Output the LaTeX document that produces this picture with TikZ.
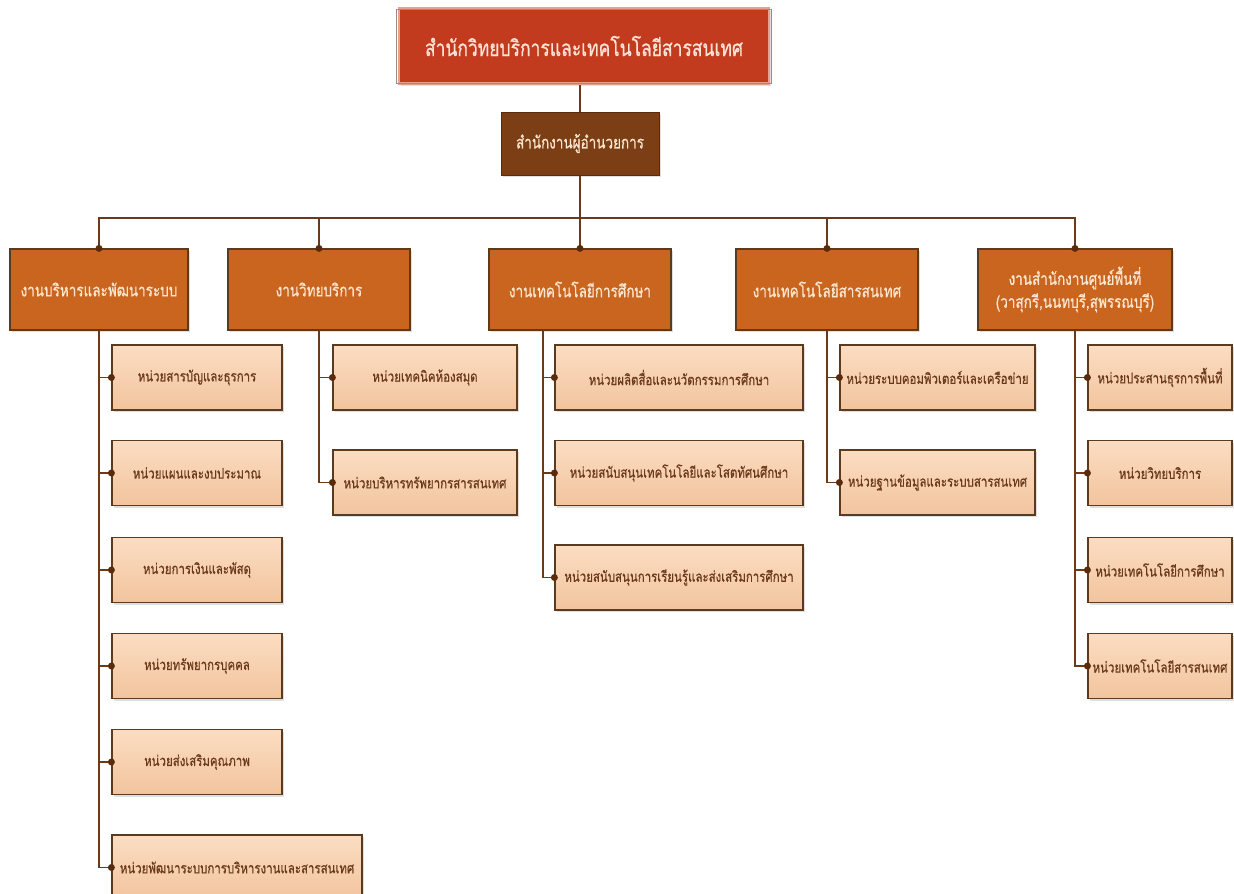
\documentclass[tikz,border=0pt]{standalone}
\usepackage{fontspec}
\newfontfamily\thai[Script=Thai,FakeStretch=0.78,FakeBold=0.6]{Loma}
\usetikzlibrary{shadows,calc}
\definecolor{linec}{HTML}{6B3A1A}
\definecolor{dotc}{HTML}{5A2A0A}
\definecolor{topred}{HTML}{C23B1E}
\definecolor{toprim}{HTML}{E9A08C}
\definecolor{topout}{HTML}{9A8A86}
\definecolor{toptext}{HTML}{FCE3D6}
\definecolor{dirfill}{HTML}{7C3E14}
\definecolor{deptfill}{HTML}{C9651F}
\definecolor{depttext}{HTML}{FCE6D0}
\definecolor{unittop}{HTML}{FBDDC2}
\definecolor{unitbot}{HTML}{F2C49E}
\definecolor{unitline}{HTML}{5C3A1E}
\definecolor{unittext}{HTML}{6B3A1A}
\tikzset{
  box/.style={rectangle, inner sep=2pt, align=center,
    drop shadow={opacity=0.25, shadow xshift=2pt, shadow yshift=-2pt}},
  topbox/.style={box, fill=topred, draw=toprim, line width=2.4pt, text=toptext,
    minimum width=370pt, minimum height=75pt, font=\thai\fontsize{22.4}{26}\selectfont},
  topframe/.style={draw=topout, line width=0.8pt},
  dirbox/.style={box, fill=dirfill, draw=dotc, line width=1pt, text=depttext,
    minimum width=158pt, minimum height=63pt, font=\thai\fontsize{17.3}{20}\selectfont},
  deptbox/.style={box, fill=deptfill, draw=unitline, line width=1.2pt, text=depttext,
    minimum height=81pt, font=\thai\fontsize{17.3}{23}\selectfont},
  unitbox/.style={box, top color=unittop, bottom color=unitbot, draw=unitline,
    line width=1.2pt, text=unittext, minimum height=65pt,
    font=\thai\fontsize{14.7}{17}\selectfont},
  conn/.style={draw=linec, line width=1.3pt},
  jdot/.style={circle, fill=dotc, inner sep=0pt, minimum size=7pt}
}
\begin{document}
\begin{tikzpicture}[x=1pt,y=-1pt]
\useasboundingbox (0,0) rectangle (1234,894);
\fill[white] (0,0) rectangle (1234,894);

% top levels
\node[topbox] (top) at (584,46) {สำนักวิทยบริการและเทคโนโลยีสารสนเทศ};
\draw[topframe] (top.north west) ++(-1.6pt,-1.6pt) rectangle ($(top.south east)+(1.6pt,1.6pt)$);
\node[dirbox] (dir) at (580,143.5) {สำนักงานผู้อำนวยการ};

% departments
\node[deptbox, minimum width=178pt] (d1) at (99,289.5) {งานบริหารและพัฒนาระบบ};
\node[deptbox, minimum width=182pt] (d2) at (319,289.5) {งานวิทยบริการ};
\node[deptbox, minimum width=182pt] (d3) at (580,289.5) {งานเทคโนโลยีการศึกษา};
\node[deptbox, minimum width=182pt] (d4) at (827,289.5) {งานเทคโนโลยีสารสนเทศ};
\node[deptbox, minimum width=194pt] (d5) at (1075,289.5) {งานสำนักงานศูนย์พื้นที่\\(วาสุกรี,นนทบุรี,สุพรรณบุรี)};

\coordinate (hub) at (580,218);
\coordinate (c3) at (543,330.5);

% units column 1
\node[unitbox, minimum width=170pt] (u11) at (197,377.5) {หน่วยสารบัญและธุรการ};
\node[unitbox, minimum width=170pt] (u12) at (197,473) {หน่วยแผนและงบประมาณ};
\node[unitbox, minimum width=170pt] (u13) at (197,570) {หน่วยการเงินและพัสดุ};
\node[unitbox, minimum width=170pt] (u14) at (197,666) {หน่วยทรัพยากรบุคคล};
\node[unitbox, minimum width=170pt] (u15) at (197,762) {หน่วยส่งเสริมคุณภาพ};
\node[unitbox, minimum width=250pt] (u16) at (237,867.5) {หน่วยพัฒนาระบบการบริหารงานและสารสนเทศ};

% units column 2
\node[unitbox, minimum width=184pt] (u21) at (425,377.5) {หน่วยเทคนิคห้องสมุด};
\node[unitbox, minimum width=184pt] (u22) at (425,482.5) {หน่วยบริหารทรัพยากรสารสนเทศ};

% units column 3
\node[unitbox, minimum width=248pt] (u31) at (679,377.5) {หน่วยผลิตสื่อและนวัตกรรมการศึกษา};
\node[unitbox, minimum width=248pt] (u32) at (679,473) {หน่วยสนับสนุนเทคโนโลยีและโสตทัศนศึกษา};
\node[unitbox, minimum width=248pt] (u33) at (679,577.5) {หน่วยสนับสนุนการเรียนรู้และส่งเสริมการศึกษา};

% units column 4
\node[unitbox, minimum width=195pt] (u41) at (937.5,377.5) {หน่วยระบบคอมพิวเตอร์และเครือข่าย};
\node[unitbox, minimum width=195pt] (u42) at (937.5,482.5) {หน่วยฐานข้อมูลและระบบสารสนเทศ};

% units column 5
\node[unitbox, minimum width=144pt] (u51) at (1160,377.5) {หน่วยประสานธุรการพื้นที่};
\node[unitbox, minimum width=144pt] (u52) at (1160,473) {หน่วยวิทยบริการ};
\node[unitbox, minimum width=144pt] (u53) at (1160,570) {หน่วยเทคโนโลยีการศึกษา};
\node[unitbox, minimum width=144pt] (u54) at (1160,666) {หน่วยเทคโนโลยีสารสนเทศ};

% connectors
\draw[conn] (top.south -| dir.north) -- (dir.north);
\draw[conn] (dir.south) -- (hub);
\foreach \d in {d1,d2,d3,d4,d5}{
  \draw[conn] (hub) -| (\d.north);
  \node[jdot] at (\d.north) {};
}
\foreach \u in {u11,u12,u13,u14,u15,u16}{
  \draw[conn] (d1.south) |- (\u.west);
  \node[jdot] at (\u.west) {};
}
\foreach \u in {u21,u22}{
  \draw[conn] (d2.south) |- (\u.west);
  \node[jdot] at (\u.west) {};
}
\foreach \u in {u31,u32,u33}{
  \draw[conn] (c3) |- (\u.west);
  \node[jdot] at (\u.west) {};
}
\foreach \u in {u41,u42}{
  \draw[conn] (d4.south) |- (\u.west);
  \node[jdot] at (\u.west) {};
}
\foreach \u in {u51,u52,u53,u54}{
  \draw[conn] (d5.south) |- (\u.west);
  \node[jdot] at (\u.west) {};
}
\end{tikzpicture}
\end{document}
